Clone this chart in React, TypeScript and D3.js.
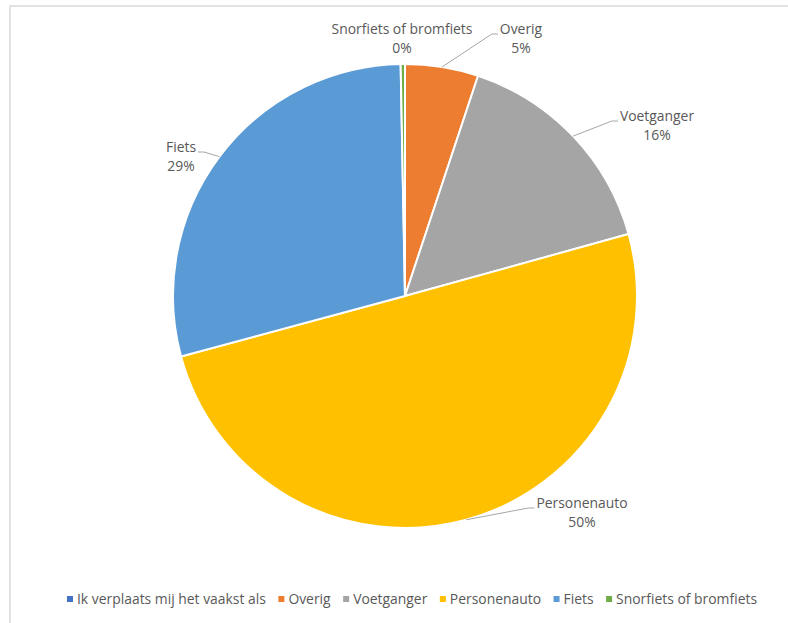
import React, { useEffect, useRef } from "react";
import * as d3 from "d3";

const categories = [
  "Ik verplaats mij het vaakst als",
  "Overig",
  "Voetganger",
  "Personenauto",
  "Fiets",
  "Snorfiets of bromfiets",
];
const values = [0, 5.1, 15.6, 50.1, 28.9, 0.3];
const colors = ["#4472C4", "#ED7D31", "#A5A5A5", "#FFC000", "#5B9BD5", "#70AD47"];

// label layout (center x, first baseline) per category; null = no label
const labelLayout: ([number, number] | null)[] = [
  null,
  [521, 34],
  [657, 121],
  [582, 508],
  [181, 152],
  [402, 34],
];
const showLeader = [false, true, true, true, true, false];

const W = 788;
const H = 623;
const FONT = "'Open Sans', 'Noto Sans', sans-serif";
const FS = 13.9;
const TEXT = "#595959";

export default function App() {
  const ref = useRef<SVGSVGElement>(null);
  useEffect(() => {
    const svg = d3.select(ref.current!);
    svg.selectAll("*").remove();

    // frame
    svg.append("path")
      .attr("d", `M10,${H} L10,6 L${W},6`)
      .attr("fill", "none")
      .attr("stroke", "#d9d9d9")
      .attr("stroke-width", 1.5);

    const cx = 405, cy = 296, r = 232;
    const total = d3.sum(values);
    const pie = d3.pie<number>().sort(null).value((d) => d)(values);
    const arc = d3.arc<d3.PieArcDatum<number>>().innerRadius(0).outerRadius(r);
    const g = svg.append("g").attr("transform", `translate(${cx},${cy})`);
    g.selectAll("path.slice")
      .data(pie)
      .join("path")
      .attr("class", "slice")
      .attr("d", arc as any)
      .attr("fill", (_, i) => colors[i])
      .attr("stroke", "#fff")
      .attr("stroke-width", 2)
      .attr("stroke-linejoin", "round");

    // labels
    pie.forEach((p, i) => {
      const lay = labelLayout[i];
      if (!lay) return;
      const [lx, ly] = lay;
      const pct = Math.round((values[i] / total) * 100) + "%";
      const t1 = svg.append("text")
        .attr("x", lx).attr("y", ly)
        .attr("text-anchor", "middle")
        .attr("font-family", FONT).attr("font-size", FS)
        .attr("fill", TEXT)
        .text(categories[i]);
      svg.append("text")
        .attr("x", lx).attr("y", ly + 19)
        .attr("text-anchor", "middle")
        .attr("font-family", FONT).attr("font-size", FS)
        .attr("fill", TEXT)
        .text(pct);
      if (showLeader[i]) {
        const w = (t1.node() as SVGTextElement).getComputedTextLength();
        const mid = (p.startAngle + p.endAngle) / 2;
        const ex = cx + r * Math.sin(mid);
        const ey = cy - r * Math.cos(mid);
        const right = lx > ex;
        const tx = right ? lx - w / 2 - 2 : lx + w / 2 + 2;
        const kx = right ? tx - 6 : tx + 6;
        svg.append("path")
          .attr("d", `M${ex},${ey} L${kx},${ly} L${tx},${ly}`)
          .attr("fill", "none")
          .attr("stroke", "#a6a6a6")
          .attr("stroke-width", 1);
      }
    });

    // legend
    const lg = svg.append("g");
    let x = 0;
    categories.forEach((c, i) => {
      const it = lg.append("g");
      it.append("rect")
        .attr("x", x).attr("y", 596).attr("width", 6).attr("height", 6)
        .attr("fill", colors[i]);
      const t = it.append("text")
        .attr("x", x + 10).attr("y", 604)
        .attr("font-family", FONT).attr("font-size", FS)
        .attr("fill", TEXT)
        .text(c);
      const w = (t.node() as SVGTextElement).getComputedTextLength();
      x += 10 + w + 12.5;
    });
    const totalW = x - 12.5;
    lg.attr("transform", `translate(${412 - totalW / 2},0)`);
  }, []);
  return (
    <svg
      ref={ref}
      width={W}
      height={H}
      style={{ position: "absolute", left: 0, top: 0, background: "#fff" }}
    />
  );
}
